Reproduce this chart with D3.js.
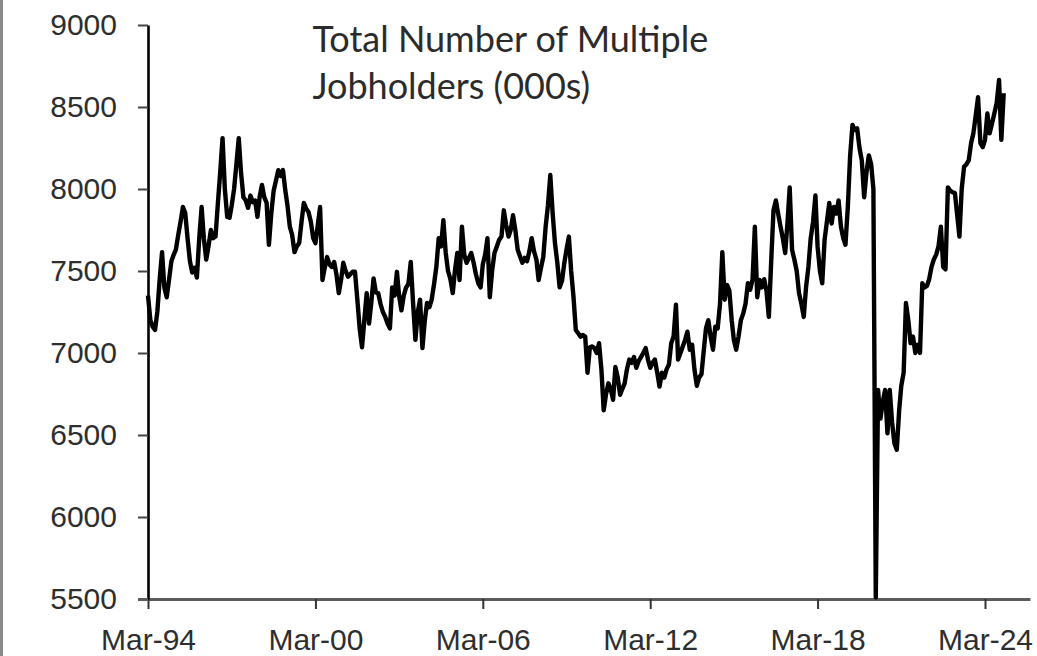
<!DOCTYPE html>
<html>
<head>
<meta charset="utf-8">
<script src="https://cdn.jsdelivr.net/npm/d3@7"></script>
<style>
  body { margin: 0; background: #fff; }
  svg { display: block; font-family: Lato, 'Open Sans', sans-serif; }
  .axis text { font-size: 30px; fill: #2e2e2e; }
  .title { font-size: 36px; fill: #2b2b2b; }
  .line { fill: none; stroke: #000; stroke-width: 4.4; stroke-linejoin: round; }
</style>
</head>
<body>
<div id="chart-container"></div>
<script>
const FIRST_MONTH = 'Mar-94';
const TICK_LABELS = ['Mar-94', 'Mar-00', 'Mar-06', 'Mar-12', 'Mar-18', 'Mar-24'];
const Y_TICKS = [5500, 6000, 6500, 7000, 7500, 8000, 8500, 9000];
const TITLE_LINES = ['Total Number of Multiple', 'Jobholders (000s)'];

// monthly values (000s), Mar-94 onwards
const jobholders = [
  7350, 7200, 7160, 7140, 7250, 7450, 7615, 7400, 7340, 7445, 7560, 7600,
  7630, 7720, 7800, 7890, 7855, 7700, 7560, 7490, 7520, 7460, 7700, 7890,
  7700, 7570, 7650, 7750, 7700, 7710, 7914, 8100, 8310, 8000, 7830, 7825,
  7900, 8000, 8150, 8310, 8100, 7950, 7930, 7885, 7960, 7920, 7930, 7830,
  7950, 8025, 7950, 7915, 7660, 7850, 7990, 8050, 8115, 8080, 8115, 7990,
  7900, 7770, 7720, 7615, 7650, 7670, 7800, 7915, 7880, 7860, 7800, 7700,
  7670, 7780, 7890, 7445, 7520, 7585, 7540, 7525, 7555, 7480, 7365, 7450,
  7550, 7500, 7465, 7480, 7495, 7495, 7325, 7150, 7035, 7200, 7365, 7180,
  7300, 7455, 7370, 7365, 7300, 7250, 7220, 7180, 7150, 7400, 7350, 7495,
  7350, 7260, 7350, 7400, 7420, 7555, 7300, 7080, 7250, 7325, 7030, 7200,
  7305, 7280, 7325, 7420, 7525, 7700, 7650, 7810, 7610, 7500, 7450, 7365,
  7500, 7610, 7445, 7770, 7600, 7550, 7580, 7610, 7550, 7480, 7425, 7400,
  7540, 7600, 7700, 7340, 7500, 7610, 7650, 7690, 7710, 7870, 7780, 7710,
  7750, 7840, 7750, 7630, 7590, 7550, 7580, 7560, 7620, 7700, 7620, 7570,
  7445, 7520, 7585, 7770, 7900, 8085, 7850, 7670, 7550, 7400, 7440, 7550,
  7630, 7710, 7500, 7340, 7140, 7120, 7100, 7110, 7100, 6880, 7035, 7040,
  7030, 7000, 7060, 6900, 6650, 6750, 6815, 6780, 6715, 6915, 6850, 6745,
  6780, 6815, 6900, 6960, 6940, 6975, 6910, 6950, 6975, 7000, 7030, 6960,
  6910, 6940, 6960, 6880, 6795, 6880, 6850, 6900, 6930, 7060, 7100, 7295,
  6960, 7000, 7040, 7080, 7130, 7020, 7050, 6900, 6800, 6850, 6870, 7020,
  7150, 7200, 7100, 7020, 7160, 7150, 7300, 7615, 7325, 7415, 7380, 7200,
  7080, 7020, 7100, 7200, 7240, 7300, 7425, 7385, 7450, 7770, 7340, 7445,
  7400, 7450, 7380, 7220, 7550, 7870, 7930, 7850, 7770, 7700, 7610, 7800,
  8010, 7630, 7570, 7500, 7365, 7300, 7220, 7400, 7525, 7700, 7800, 7960,
  7650, 7500, 7425, 7690, 7800, 7915, 7790, 7890, 7850, 7930, 7770, 7700,
  7660, 7890, 8200, 8390, 8360, 8370, 8250, 8175, 7950, 8100, 8205, 8150,
  8000, 5510, 6775, 6600, 6700, 6775, 6510, 6775, 6575, 6450, 6410, 6650,
  6800, 6880, 7305, 7200, 7060, 7100, 7000, 7050, 7000, 7425, 7400, 7410,
  7450, 7525, 7570, 7600, 7650, 7770, 7525, 7510, 8010, 7990, 7980, 7975,
  7850, 7710, 8000, 8135, 8150, 8175, 8280, 8340, 8450, 8560, 8280, 8255,
  8300, 8460, 8340, 8400, 8460, 8525, 8665, 8300, 8585
];

const width = 1037,
  height = 656;
const margin = {top: 25, right: 7, bottom: 57, left: 148};
const gWidth = width - margin.left - margin.right;
const gHeight = height - margin.top - margin.bottom;

const parseMonth = d3.timeParse('%b-%y');
const tickDates = TICK_LABELS.map(parseMonth);
const start = parseMonth(FIRST_MONTH);
const dates = jobholders.map((_, i) => new Date(start.getFullYear(), start.getMonth() + i, 1));

// last tick sits a little short of the right end of the axis
const lastTickX = 837;
const endDate = new Date(+start + (tickDates[tickDates.length - 1] - start) * gWidth / lastTickX);

const xScale = d3.scaleTime()
  .domain([start, endDate])
  .range([0, gWidth]);
const yScale = d3.scaleLinear()
  .domain([d3.min(Y_TICKS), d3.max(Y_TICKS)])
  .range([gHeight, 0]);

const root = d3.select('#chart-container')
  .append('svg')
  .attr('width', width)
  .attr('height', height);

// grey page edge on the left
root.append('rect')
  .attr('x', 0).attr('y', 0)
  .attr('width', 3).attr('height', height)
  .attr('fill', '#8a8a8a');

const svg = root.append('g')
  .attr('transform', `translate(${margin.left}, ${margin.top})`);

// x axis
const xAxis = svg.append('g')
  .attr('class', 'x axis')
  .attr('transform', `translate(0, ${gHeight})`)
  .call(d3.axisBottom(xScale)
    .tickValues(tickDates)
    .tickFormat(d3.timeFormat('%b-%y'))
    .tickSize(10)
    .tickSizeOuter(0)
    .tickPadding(20));
xAxis.select('.domain').attr('stroke', '#5c5c5c').attr('stroke-width', 3);
xAxis.selectAll('.tick line').attr('stroke', '#333').attr('stroke-width', 2);

// y axis
const yAxis = svg.append('g')
  .attr('class', 'y axis')
  .call(d3.axisLeft(yScale)
    .tickValues(Y_TICKS)
    .tickFormat(d3.format('d'))
    .tickSize(10)
    .tickSizeOuter(0)
    .tickPadding(21));
yAxis.select('.domain').attr('stroke', '#000').attr('stroke-width', 2.6);
yAxis.selectAll('.tick line').attr('stroke', '#444').attr('stroke-width', 2);
yAxis.selectAll('.tick').filter(d => d === d3.min(Y_TICKS)).select('line').attr('stroke', '#5c5c5c').attr('stroke-width', 3);
svg.selectAll('.axis text').attr('font-family', null).attr('font-size', null);

// series
const lineGen = d3.line()
  .x((_, i) => xScale(dates[i]))
  .y(d => yScale(d));
svg.append('path')
  .datum(jobholders)
  .attr('class', 'line')
  .attr('d', lineGen);

// title, left edge just right of the Mar-00 tick
const title = svg.append('text')
  .attr('class', 'title')
  .attr('x', xScale(tickDates[1]) - 3)
  .attr('y', 27);
title.selectAll('tspan')
  .data(TITLE_LINES)
  .enter()
  .append('tspan')
  .attr('x', title.attr('x'))
  .attr('dy', (_, i) => i === 0 ? 0 : 47)
  .text(d => d);
</script>
</body>
</html>
